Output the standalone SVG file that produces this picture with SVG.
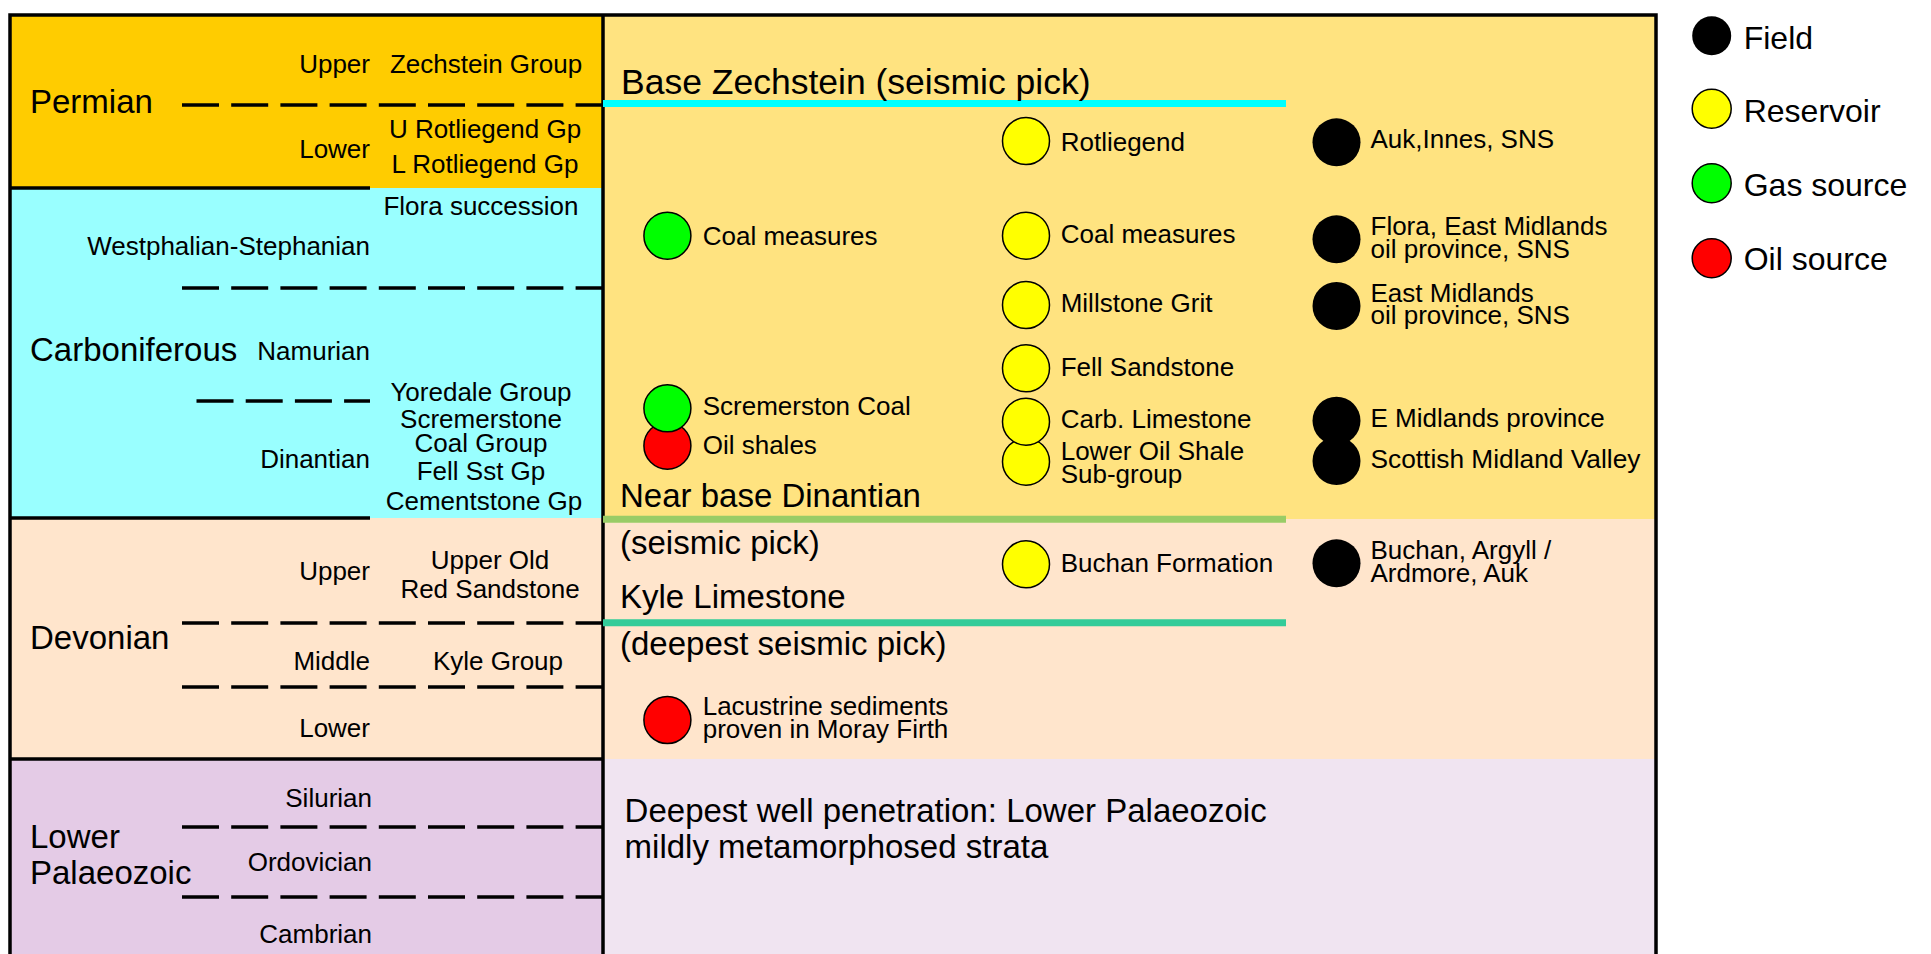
<svg xmlns="http://www.w3.org/2000/svg" width="1931" height="954" viewBox="0 0 1931 954">
<style>
text{font-family:"Liberation Sans",Arial,sans-serif;fill:#000}
.s{font-size:26px}
.l{font-size:33px}
.e{text-anchor:end}
.m{text-anchor:middle}
.sol{stroke:#000;stroke-width:3.5;fill:none}
.dash{stroke:#000;stroke-width:3.5;stroke-dasharray:37 12.2;fill:none}
.hz{stroke-width:7;fill:none}
.dot{stroke:#000;stroke-width:1.5}
.fld{fill:#000}
.res{fill:#FFFF00}
.gas{fill:#00FF00}
.oil{fill:#FF0000}
.lg{font-size:32px}
</style>
<rect width="1931" height="954" fill="#fff"/>
<g id="background">
<rect x="10" y="15" width="593" height="173" fill="#FFCC00"/>
<rect x="10" y="188" width="593" height="330" fill="#99FFFF"/>
<rect x="10" y="518" width="593" height="241" fill="#FFE5CC"/>
<rect x="10" y="759" width="593" height="200" fill="#E4CBE6"/>
<rect x="603" y="15" width="1053" height="504" fill="#FFE380"/>
<rect x="603" y="519" width="1053" height="240" fill="#FFE5CC"/>
<rect x="603" y="759" width="1053" height="200" fill="#F0E4F1"/>
</g>
<g id="frame">
<rect x="10" y="15" width="1646" height="960" class="sol"/>
<line x1="603" y1="15" x2="603" y2="960" class="sol"/>
<line x1="10" y1="188" x2="370" y2="188" class="sol"/>
<line x1="10" y1="518" x2="370" y2="518" class="sol"/>
<line x1="10" y1="759" x2="603" y2="759" class="sol"/>
<line x1="182" y1="105" x2="603" y2="105" class="dash"/>
<line x1="182" y1="288" x2="603" y2="288" class="dash"/>
<line x1="196.5" y1="401" x2="370" y2="401" class="dash"/>
<line x1="182" y1="623" x2="603" y2="623" class="dash"/>
<line x1="182" y1="687" x2="603" y2="687" class="dash"/>
<line x1="182" y1="827" x2="603" y2="827" class="dash"/>
<line x1="182" y1="897" x2="603" y2="897" class="dash"/>
</g>
<g id="connectors">
<line x1="603" y1="103.5" x2="1286" y2="103.5" class="hz" stroke="#00FFFF"/>
<line x1="603" y1="519.3" x2="1286" y2="519.3" class="hz" stroke="#99CC66"/>
<line x1="603" y1="622.7" x2="1286" y2="622.7" class="hz" stroke="#33CC99"/>
</g>
<g id="permian">
<text class="s e" x="370" y="72.7">Upper</text>
<text class="s m" x="486" y="72.7">Zechstein Group</text>
<text class="l" x="30" y="113">Permian</text>
<text class="s m" x="485" y="138.3">U Rotliegend Gp</text>
<text class="s e" x="370" y="158.3">Lower</text>
<text class="s m" x="485" y="173.3">L Rotliegend Gp</text>
</g>
<g id="carboniferous">
<text class="s m" x="481" y="215">Flora succession</text>
<text class="s e" x="370" y="255">Westphalian-Stephanian</text>
<text class="l" x="30" y="361">Carboniferous</text>
<text class="s e" x="370" y="360">Namurian</text>
<text class="s m" x="481" y="401">Yoredale Group</text>
<text class="s m" x="481" y="428">Scremerstone</text>
<text class="s m" x="481" y="452">Coal Group</text>
<text class="s e" x="370" y="468">Dinantian</text>
<text class="s m" x="481" y="480">Fell Sst Gp</text>
<text class="s m" x="484" y="510">Cementstone Gp</text>
</g>
<g id="devonian">
<text class="s e" x="370" y="580">Upper</text>
<text class="s m" x="490" y="569">Upper Old</text>
<text class="s m" x="490" y="598">Red Sandstone</text>
<text class="l" x="30" y="649">Devonian</text>
<text class="s e" x="370" y="670">Middle</text>
<text class="s m" x="498" y="670">Kyle Group</text>
<text class="s e" x="370" y="737">Lower</text>
</g>
<g id="lower-palaeozoic">
<text class="s e" x="372" y="807">Silurian</text>
<text class="l" x="30" y="848">Lower</text>
<text class="s e" x="372" y="871">Ordovician</text>
<text class="l" x="30" y="884">Palaeozoic</text>
<text class="s e" x="372" y="943">Cambrian</text>
</g>
<g id="horizon-labels">
<text class="l" x="621" y="94" style="font-size:35.5px">Base Zechstein (seismic pick)</text>
<text class="l" x="620" y="506.7">Near base Dinantian</text>
<text class="l" x="620" y="554">(seismic pick)</text>
<text class="l" x="620" y="608.3">Kyle Limestone</text>
<text class="l" x="620" y="655">(deepest seismic pick)</text>
<text class="l" x="624.6" y="821.7">Deepest well penetration: Lower Palaeozoic</text>
<text class="l" x="624.6" y="858.3">mildly metamorphosed strata</text>
</g>
<g id="sources">
<g id="src-coal"><circle cx="667.4" cy="235.7" r="23.5" class="dot gas"/><text class="s" x="702.7" y="245">Coal measures</text></g>
<g id="src-oilshales"><circle cx="667.4" cy="445.7" r="23.5" class="dot oil"/><text class="s" x="702.7" y="454">Oil shales</text></g>
<g id="src-scremerston"><circle cx="667.4" cy="408.3" r="23.5" class="dot gas"/><text class="s" x="702.7" y="415">Scremerston Coal</text></g>
<g id="src-lacustrine"><circle cx="667.4" cy="720" r="23.5" class="dot oil"/><text class="s" x="702.7" y="715">Lacustrine sediments</text><text class="s" x="702.7" y="738.3">proven in Moray Firth</text></g>
</g>
<g id="reservoirs">
<g id="res-rotliegend"><circle cx="1026" cy="141" r="23.5" class="dot res"/><text class="s" x="1060.7" y="150.7">Rotliegend</text></g>
<g id="res-coal"><circle cx="1026" cy="235.7" r="23.5" class="dot res"/><text class="s" x="1060.7" y="243">Coal measures</text></g>
<g id="res-millstone"><circle cx="1026" cy="305" r="23.5" class="dot res"/><text class="s" x="1060.7" y="312.3">Millstone Grit</text></g>
<g id="res-fell"><circle cx="1026" cy="368.3" r="23.5" class="dot res"/><text class="s" x="1060.7" y="376">Fell Sandstone</text></g>
<g id="res-lowoilshale"><circle cx="1026" cy="461.7" r="23.5" class="dot res"/><text class="s" x="1060.7" y="460">Lower Oil Shale</text><text class="s" x="1060.7" y="482.7">Sub-group</text></g>
<g id="res-carblime"><circle cx="1026" cy="421.7" r="23.5" class="dot res"/><text class="s" x="1060.7" y="428.3">Carb. Limestone</text></g>
<g id="res-buchan"><circle cx="1026" cy="564.3" r="23.5" class="dot res"/><text class="s" x="1060.7" y="571.7">Buchan Formation</text></g>
</g>
<g id="fields">
<g id="fld-auk"><circle cx="1336.5" cy="142.3" r="24" class="fld"/><text class="s" x="1370.5" y="148.3">Auk,Innes, SNS</text></g>
<g id="fld-flora"><circle cx="1336.5" cy="239.3" r="24" class="fld"/><text class="s" x="1370.5" y="235">Flora, East Midlands</text><text class="s" x="1370.5" y="258.3">oil province, SNS</text></g>
<g id="fld-eastmid"><circle cx="1336.5" cy="306" r="24" class="fld"/><text class="s" x="1370.5" y="301.7">East Midlands</text><text class="s" x="1370.5" y="324">oil province, SNS</text></g>
<g id="fld-emprov"><circle cx="1336.5" cy="420.7" r="24" class="fld"/><text class="s" x="1370.5" y="427.3">E Midlands province</text></g>
<g id="fld-scottish"><circle cx="1336.5" cy="461" r="24" class="fld"/><text class="s" x="1370.5" y="468.3" style="font-size:26.3px">Scottish Midland Valley</text></g>
<g id="fld-buchan"><circle cx="1336.5" cy="563.3" r="24" class="fld"/><text class="s" x="1370.5" y="559.3">Buchan, Argyll /</text><text class="s" x="1370.5" y="582.3">Ardmore, Auk</text></g>
</g>
<g id="legend">
<g id="leg-field"><circle cx="1711.7" cy="35.7" r="19.5" class="fld"/><text class="lg" x="1743.7" y="49">Field</text></g>
<g id="leg-reservoir"><circle cx="1711.7" cy="108.7" r="19.5" class="dot res"/><text class="lg" x="1743.7" y="121.7">Reservoir</text></g>
<g id="leg-gas"><circle cx="1711.7" cy="183.3" r="19.5" class="dot gas"/><text class="lg" x="1743.7" y="196">Gas source</text></g>
<g id="leg-oil"><circle cx="1711.7" cy="258.3" r="19.5" class="dot oil"/><text class="lg" x="1743.7" y="270">Oil source</text></g>
</g>
</svg>
